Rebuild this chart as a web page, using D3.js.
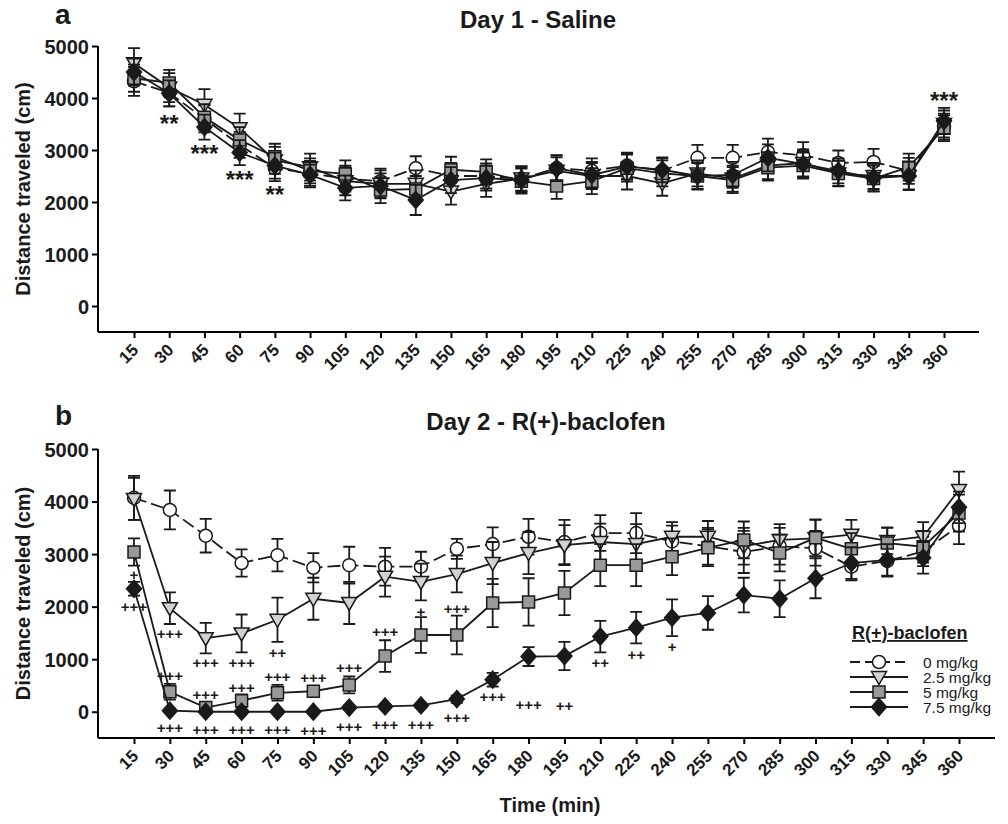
<!DOCTYPE html>
<html><head><meta charset="utf-8">
<script src="https://cdn.jsdelivr.net/npm/d3@7"></script>
<style>body{margin:0;background:#fff} svg{display:block} text{font-family:"Liberation Sans",Arial,Helvetica,sans-serif}</style>
</head><body><svg id="c" width="1008" height="824"></svg>
<script>
// ---------- data ----------
const times = [15,30,45,60,75,90,105,120,135,150,165,180,195,210,225,240,255,270,285,300,315,330,345,360];
const yTickValues = [0,1000,2000,3000,4000,5000];
const doseLabels = ["0 mg/kg","2.5 mg/kg","5 mg/kg","7.5 mg/kg"];
const legendTitle = "R(+)-baclofen";
const titleA = "Day 1 - Saline";
const titleB = "Day 2 - R(+)-baclofen";
const xTitle = "Time (min)";
const yTitle = "Distance traveled (cm)";

// Day 1 - Saline (means)
const day1_0   = [4320,4100,3600,3100,2650,2550,2450,2400,2650,2500,2500,2450,2650,2600,2700,2600,2850,2850,2960,2900,2750,2770,2600,3450];
const day1_25  = [4670,4200,3870,3420,2800,2670,2400,2350,2350,2200,2350,2450,2600,2500,2500,2360,2550,2450,2700,2750,2550,2500,2500,3500];
const day1_5   = [4380,4290,3630,3190,2870,2600,2540,2230,2250,2620,2580,2400,2310,2400,2650,2550,2500,2420,2660,2700,2550,2450,2670,3420];
const day1_75  = [4500,4090,3440,2950,2700,2520,2270,2310,2040,2420,2460,2420,2650,2520,2680,2620,2500,2520,2850,2730,2600,2460,2500,3560];
// Day 1 SEM
const day1_0e  = [280,260,260,250,250,240,250,240,230,250,240,230,240,240,250,240,250,250,260,250,240,250,250,250];
const day1_25e = [290,280,300,280,260,260,270,260,260,250,250,240,260,250,260,240,250,250,260,260,250,250,260,260];
const day1_5e  = [260,250,250,250,250,240,260,250,250,250,240,240,250,250,260,250,250,250,250,250,240,250,260,250];
const day1_75e = [260,250,240,240,250,240,240,240,290,250,240,240,250,250,250,240,260,250,260,250,240,250,270,250];

// Day 2 - R(+)-baclofen (means)
const day2_0   = [4070,3840,3350,2830,2980,2740,2790,2760,2760,3100,3190,3330,3230,3400,3400,3240,3150,3040,3150,3110,2760,2870,3050,3540];
const day2_25  = [4050,1970,1400,1490,1750,2150,2070,2570,2470,2620,2830,3020,3170,3230,3190,3330,3330,3150,3270,3300,3370,3250,3330,4220];
const day2_5   = [3040,380,80,210,360,390,510,1060,1460,1460,2070,2090,2260,2790,2790,2950,3120,3270,3020,3310,3100,3210,3140,3780];
const day2_75  = [2340,20,0,0,0,0,80,100,120,240,610,1050,1060,1430,1600,1790,1880,2220,2150,2540,2830,2890,2930,3890];
// Day 2 SEM
const day2_0e  = [420,370,320,260,310,280,350,360,285,190,320,340,420,340,380,300,350,400,350,330,260,300,280,350];
const day2_25e = [400,300,290,360,420,400,400,380,350,350,400,400,380,350,380,280,300,350,300,350,280,250,280,350];
const day2_5e  = [260,150,100,120,150,100,160,300,340,370,460,450,420,400,400,350,350,350,350,350,300,300,300,350];
const day2_75e = [130,40,30,30,30,30,40,40,50,70,130,180,270,300,300,350,320,330,350,380,300,300,300,300];

// significance annotations: time, text, value (centre of the mark)
const annA_time = [30,45,60,75,360];
const annA_text = ["**","***","***","**","***"];
const annA_val  = [3615,3040,2540,2250,4060];

const annB_time = [15,15,30,30,30,45,45,45,60,60,60,75,75,75,90,90,105,105,120,120,135,135,150,150,165,180,195,210,225,240];
const annB_text = ["+","+++","+++","+++","+++","+++","+++","+++","+++","+++","+++","++","+++","+++","+++","+++","+++","+++","+++","+++","+","+++","+++","+++","+++","+++","++","++","++","+"];
const annB_val  = [2605,1996,1483,684,-304,932,323,-342,932,456,-342,1122,665,-342,646,-361,837,-285,1521,-247,1901,-247,1958,-114,285,133,114,932,1084,1236];

// ---------- drawing ----------
const svg = d3.select("#c");
const FONT_BOLD = 700;
const INK = "#1a1a1a";
const shapes = {
  circle: "M6.5,0A6.5,6.5,0,1,1,-6.5,0A6.5,6.5,0,1,1,6.5,0Z",
  triangle: "M-7.5,-5.5L7.5,-5.5L0,7.5Z",
  square: "M-6,-6L6,-6L6,6L-6,6Z",
  diamond: "M0,-8.5L7.5,0L0,8.5L-7.5,0Z"
};
const styles = [
  {shape:"circle",   fill:"#ffffff", dash:"13,5"},
  {shape:"triangle", fill:"#d2d2d2", dash:null},
  {shape:"square",   fill:"#999999", dash:null},
  {shape:"diamond",  fill:"#1a1a1a", dash:null}
];

function panel(cfg){
  const g = svg.append("g");
  const x = d3.scalePoint().domain(times).range([134, cfg.xEnd]);
  const y = d3.scaleLinear().domain([-500,5000]).range([cfg.yBottom, cfg.yTop]);
  const axisLeft = 98;

  // axes
  const yAxis = d3.axisLeft(y).tickValues(yTickValues).tickSize(6).tickSizeOuter(0).tickFormat(d3.format("d"));
  const ya = g.append("g").attr("transform",`translate(${axisLeft},0)`).call(yAxis);
  ya.select(".domain").attr("d",`M0,${y(5000)}V${y(-500)}`);
  ya.selectAll("path,line").attr("stroke","#000").attr("stroke-width",2);
  ya.selectAll("text").attr("font-size",20).attr("font-weight",FONT_BOLD).attr("fill",INK).attr("x",-9).attr("dy","0.35em");

  const xAxis = d3.axisBottom(x).tickSize(6).tickSizeOuter(0);
  const xa = g.append("g").attr("transform",`translate(0,${y(-500)})`).call(xAxis);
  xa.select(".domain").attr("d",`M${axisLeft},0H${cfg.axisRight}`);
  xa.selectAll("path,line").attr("stroke","#000").attr("stroke-width",2);
  xa.selectAll("text").attr("font-size",17).attr("font-weight",FONT_BOLD).attr("fill",INK)
    .attr("text-anchor","end").attr("dy",0).attr("y",0)
    .attr("transform","translate(5,19) rotate(-45)");

  // series
  cfg.series.forEach((s,i)=>{
    const st = styles[i];
    const sg = g.append("g");
    const pts = times.map((t,k)=>({t, v:s.v[k], e:s.e[k]}));
    const line = d3.line().x(d=>x(d.t)).y(d=>y(d.v));
    sg.append("path").attr("d",line(pts)).attr("fill","none").attr("stroke",INK)
      .attr("stroke-width",1.8).attr("stroke-dasharray",st.dash);
    const eb = sg.selectAll(".eb").data(pts).enter().append("g");
    eb.append("path").attr("d",d=>{
      const cx=x(d.t), t=y(d.v+d.e), b=y(d.v-d.e);
      return `M${cx},${t}V${b}M${cx-6},${t}H${cx+6}M${cx-6},${b}H${cx+6}`;
    }).attr("stroke",INK).attr("stroke-width",1.8).attr("fill","none");
    sg.selectAll(".mk").data(pts).enter().append("path")
      .attr("d",shapes[st.shape]).attr("transform",d=>`translate(${x(d.t)},${y(d.v)})`)
      .attr("fill",st.fill).attr("stroke",INK).attr("stroke-width",1.5);
  });

  // annotations
  cfg.ann.time.forEach((t,k)=>{
    const txt = cfg.ann.text[k];
    const isStar = txt.indexOf("*")>=0;
    const fs = isStar ? 24 : 15;
    const off = isStar ? fs*0.6 : fs*0.33;
    g.append("text").attr("x",x(t)).attr("y",y(cfg.ann.val[k])+off)
      .attr("text-anchor","middle").attr("font-size",fs).attr("font-weight",FONT_BOLD)
      .attr("fill",INK).text(txt);
  });

  // panel letter and title
  g.append("text").attr("x",55).attr("y",cfg.letterY).attr("font-size",28).attr("font-weight",FONT_BOLD).attr("fill",INK).text(cfg.letter);
  g.append("text").attr("x",cfg.titleX).attr("y",cfg.titleY).attr("text-anchor","middle")
    .attr("font-size",24).attr("font-weight",FONT_BOLD).attr("fill",INK).text(cfg.title);
  g.append("text").attr("transform",`translate(30,${(y(5000)+y(-500))/2}) rotate(-90)`)
    .attr("text-anchor","middle").attr("font-size",20).attr("font-weight",FONT_BOLD).attr("fill",INK).text(yTitle);
  return {x,y};
}

panel({
  xEnd:944, axisRight:979, yBottom:332, yTop:46,
  letter:"a", letterY:24, title:titleA, titleX:538, titleY:28,
  series:[{v:day1_0,e:day1_0e},{v:day1_25,e:day1_25e},{v:day1_5,e:day1_5e},{v:day1_75,e:day1_75e}],
  ann:{time:annA_time,text:annA_text,val:annA_val}
});
panel({
  xEnd:959, axisRight:995, yBottom:738, yTop:449,
  letter:"b", letterY:425, title:titleB, titleX:546, titleY:430,
  series:[{v:day2_0,e:day2_0e},{v:day2_25,e:day2_25e},{v:day2_5,e:day2_5e},{v:day2_75,e:day2_75e}],
  ann:{time:annB_time,text:annB_text,val:annB_val}
});

// x title
svg.append("text").attr("x",550).attr("y",812).attr("text-anchor","middle")
  .attr("font-size",20).attr("font-weight",FONT_BOLD).attr("fill",INK).text(xTitle);

// legend
const lg = svg.append("g");
lg.append("text").attr("x",852).attr("y",639).attr("font-size",18).attr("font-weight",FONT_BOLD)
  .attr("fill",INK).attr("text-decoration","underline").text(legendTitle);
doseLabels.forEach((lab,i)=>{
  const cy = 662 + i*15;
  const st = styles[i];
  lg.append("path").attr("d",`M850,${cy}H908`).attr("stroke",INK).attr("stroke-width",1.8)
    .attr("stroke-dasharray", st.dash ? "10,5" : null);
  lg.append("path").attr("d",shapes[st.shape]).attr("transform",`translate(879,${cy})`)
    .attr("fill",st.fill).attr("stroke",INK).attr("stroke-width",1.5);
  lg.append("text").attr("x",923).attr("y",cy+5.5).attr("font-size",15.5).attr("fill",INK).text(lab);
});
</script></body></html>
